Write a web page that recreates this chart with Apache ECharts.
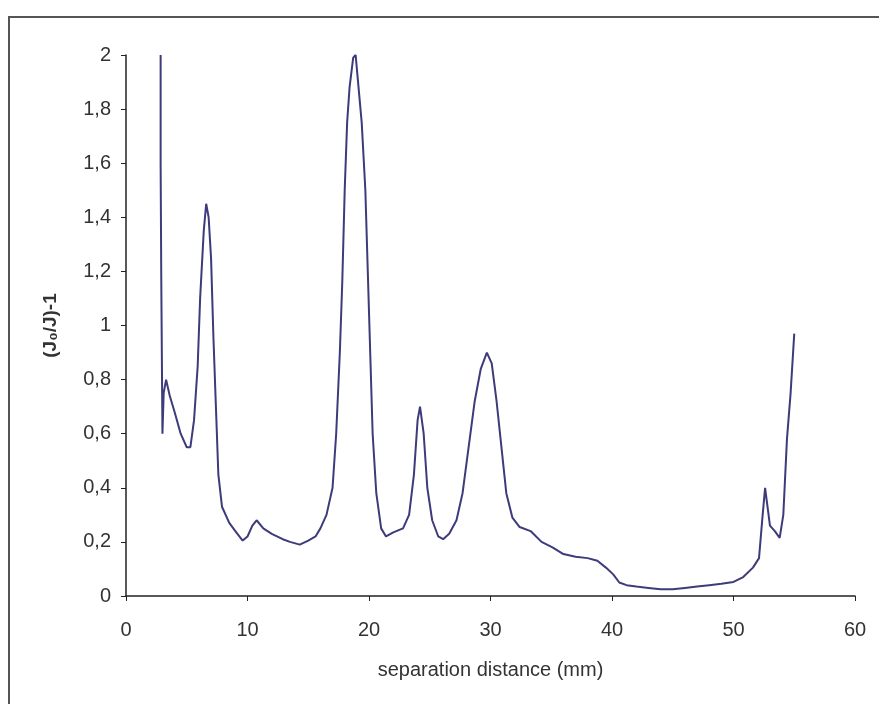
<!DOCTYPE html>
<html>
<head>
<meta charset="utf-8">
<script src="https://cdn.jsdelivr.net/npm/echarts@6/dist/echarts.min.js"></script>
<style>html,body{margin:0;padding:0;background:#fff;}#c{width:879px;height:704px;}</style>
</head>
<body>
<div id="c"></div>
<script>
const xValues = [2.85,2.85,2.9,3.0,3.1,3.3,3.6,4.0,4.5,5.0,5.3,5.6,5.9,6.1,6.4,6.6,6.8,7.0,7.2,7.4,7.6,7.9,8.5,9.0,9.6,10.0,10.4,10.75,11.3,12.0,12.9,13.5,14.3,15.0,15.6,16.0,16.5,17.0,17.3,17.6,17.8,18.0,18.2,18.4,18.7,18.9,19.1,19.4,19.7,19.9,20.1,20.3,20.6,21.0,21.4,22.0,22.8,23.3,23.7,24.0,24.2,24.5,24.8,25.2,25.7,26.1,26.6,27.2,27.7,28.2,28.7,29.2,29.7,30.1,30.5,30.9,31.3,31.8,32.4,33.3,34.2,35.1,36.0,37.0,38.0,38.8,39.5,40.1,40.6,41.2,42.0,43.0,44.0,45.0,46.0,47.0,48.0,49.0,50.0,50.8,51.6,52.1,52.4,52.6,52.8,53.0,53.4,53.8,54.1,54.4,54.7,55.0];
const yValues = [2.0,1.6,1.19,0.6,0.75,0.8,0.74,0.68,0.6,0.55,0.55,0.65,0.85,1.1,1.35,1.45,1.4,1.25,0.95,0.7,0.45,0.33,0.27,0.24,0.205,0.22,0.26,0.28,0.25,0.23,0.21,0.2,0.19,0.205,0.22,0.25,0.3,0.4,0.6,0.9,1.16,1.5,1.75,1.88,1.99,2.0,1.9,1.75,1.5,1.2,0.9,0.6,0.38,0.25,0.22,0.235,0.25,0.3,0.45,0.65,0.7,0.6,0.4,0.28,0.22,0.21,0.23,0.28,0.38,0.55,0.72,0.84,0.9,0.86,0.72,0.55,0.38,0.29,0.255,0.24,0.2,0.18,0.155,0.145,0.14,0.13,0.105,0.08,0.05,0.04,0.035,0.03,0.025,0.025,0.03,0.035,0.04,0.045,0.052,0.07,0.105,0.14,0.3,0.4,0.33,0.26,0.24,0.215,0.3,0.58,0.75,0.97];
const xTicks = [0,10,20,30,40,50,60];
const yTicks = ['0','0,2','0,4','0,6','0,8','1','1,2','1,4','1,6','1,8','2'];
const xTitle = 'separation distance (mm)';
const yTitle = '(J₀/J)-1';

const chart = echarts.init(document.getElementById('c'), null, {renderer:'canvas'});
const font = 'Liberation Sans, Arial, sans-serif';
chart.setOption({
  animation:false,
  backgroundColor:'#fff',
  graphic:[{type:'rect', shape:{x:9,y:17,width:900,height:720}, style:{fill:'none', stroke:'#555', lineWidth:2}}],
  grid:{left:126,right:24,top:55,bottom:108},
  xAxis:{type:'value',min:0,max:60,interval:10,
    name:xTitle,nameLocation:'middle',nameGap:64,
    nameTextStyle:{fontFamily:font,fontSize:20,color:'#333'},
    axisLine:{lineStyle:{color:'#222',width:1.5}},
    axisTick:{show:true,length:5,lineStyle:{color:'#222'}},
    axisLabel:{fontFamily:font,fontSize:20,color:'#333',margin:24,formatter:(v)=>String(xTicks[Math.round(v/10)])},
    splitLine:{show:false}},
  yAxis:{type:'value',min:0,max:2,interval:0.2,
    name:yTitle,nameLocation:'middle',nameGap:66,nameRotate:90,
    nameTextStyle:{fontFamily:font,fontSize:19,fontWeight:'bold',color:'#333'},
    axisLine:{show:true,lineStyle:{color:'#222',width:1.5}},
    axisTick:{show:true,length:5,lineStyle:{color:'#222'}},
    axisLabel:{fontFamily:font,fontSize:20,color:'#333',margin:15,formatter:(v)=>yTicks[Math.round(v/0.2)]},
    splitLine:{show:false}},
  series:[{type:'line',data:xValues.map((x,i)=>[x,yValues[i]]),showSymbol:false,
    lineStyle:{color:'#3d3b7a',width:2},smooth:false}]
});
</script>
</body>
</html>
